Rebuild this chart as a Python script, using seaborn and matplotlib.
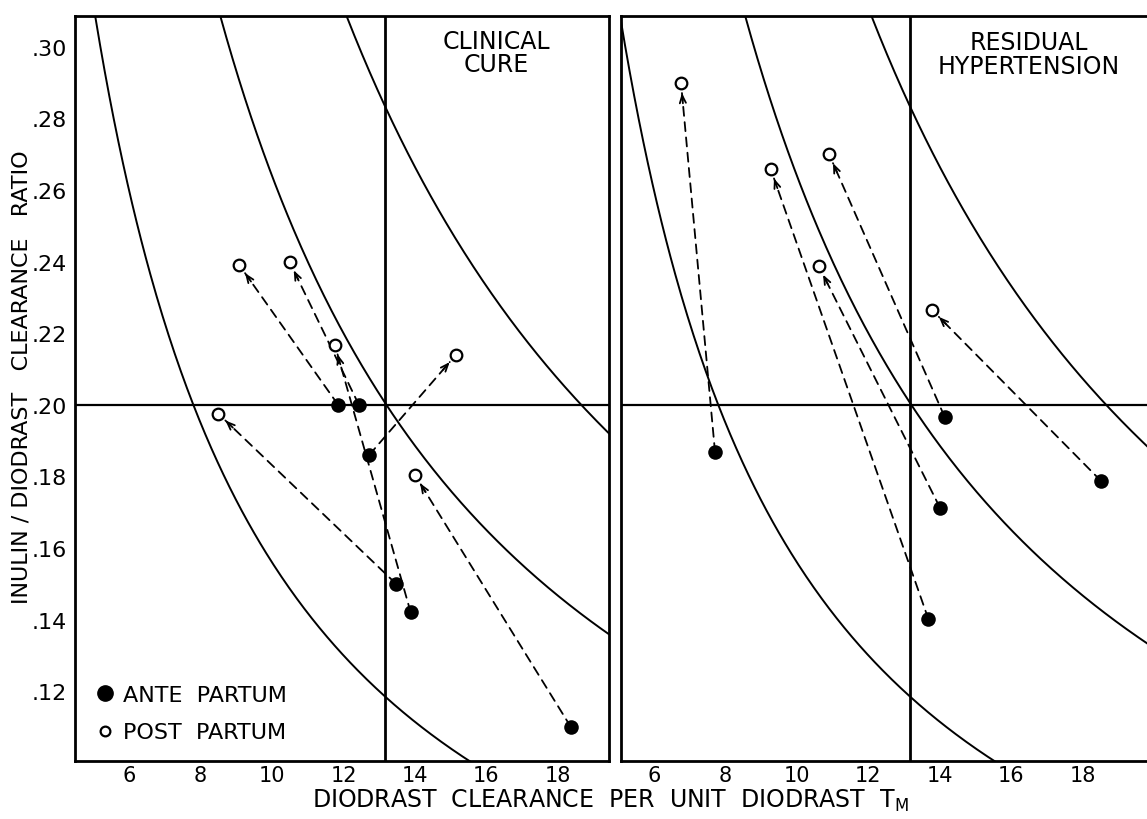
import numpy as np
import pandas as pd
import matplotlib
matplotlib.use("Agg")
import matplotlib.pyplot as plt
from matplotlib.lines import Line2D
from matplotlib.ticker import FuncFormatter
import seaborn as sns

# values
# left panel: clinical cure (ante partum -> post partum pairs)
cure_ante_x = [11.85, 12.43, 12.72, 13.47, 13.88, 18.36]
cure_ante_y = [0.200, 0.200, 0.186, 0.150, 0.142, 0.110]
cure_post_x = [9.09, 10.49, 15.15, 8.50, 11.76, 14.00]
cure_post_y = [0.239, 0.240, 0.214, 0.1975, 0.2167, 0.1804]

# right panel: residual hypertension
resid_ante_x = [7.71, 14.13, 14.00, 13.68, 18.51]
resid_ante_y = [0.1868, 0.1967, 0.1713, 0.1401, 0.1787]
resid_post_x = [6.76, 10.90, 10.61, 9.27, 13.78]
resid_post_y = [0.2898, 0.270, 0.2388, 0.2658, 0.2265]

# constant inulin clearance / Tm lines (ratio * x = k) and reference lines
curve_k = [1.56, 2.64, 3.73]
ref_x = 13.15
ref_y = 0.20

x_ticks = [6, 8, 10, 12, 14, 16, 18]
y_ticks = [0.12, 0.14, 0.16, 0.18, 0.20, 0.22, 0.24, 0.26, 0.28, 0.30]

sns.set_style("white")
plt.rcParams['font.family'] = ['DejaVu Sans']
plt.rcParams['text.color'] = 'black'
plt.rcParams['axes.labelcolor'] = 'black'
plt.rcParams['xtick.color'] = 'black'
plt.rcParams['ytick.color'] = 'black'

W, H = 1147, 820
fig = plt.figure(figsize=(W / 100, H / 100), dpi=100)

ylim = (0.1005, 0.3087)
bottom = (H - 762) / H
height = (762 - 16.7) / H
ax1 = fig.add_axes([75 / W, bottom, (609 - 75) / W, height])
ax2 = fig.add_axes([621 / W, bottom, (W - 621) / W, height])
ax1.set_xlim(4.49, 4.49 + 534 / 35.75)
ax2.set_xlim(5.08, 5.08 + (W - 621) / 35.75)

xs = np.linspace(4.0, 21.0, 400)
curves = pd.DataFrame({
    'x': np.tile(xs, len(curve_k)),
    'y': np.concatenate([k / xs for k in curve_k]),
    'k': np.repeat(curve_k, len(xs)),
})


def draw_panel(ax, ante_x, ante_y, post_x, post_y, title):
    ax.set_ylim(*ylim)
    sns.lineplot(data=curves, x='x', y='y', units='k', estimator=None,
                 color='black', lw=1.4, ax=ax, legend=False, zorder=2, sort=False)
    ax.axvline(ref_x, color='black', lw=2.0, zorder=2)
    ax.axhline(ref_y, color='black', lw=1.6, zorder=2)

    for x0, y0, x1, y1 in zip(ante_x, ante_y, post_x, post_y):
        ax.annotate('', xy=(x1, y1), xytext=(x0, y0),
                    arrowprops=dict(arrowstyle='-', lw=1.3, color='black',
                                    linestyle=(0, (5, 3.5)),
                                    shrinkA=0, shrinkB=7), zorder=3)
        p0 = ax.transData.transform((x0, y0))
        p1 = ax.transData.transform((x1, y1))
        t = 20.0 / np.hypot(*(p1 - p0))
        hx = x1 + t * (x0 - x1)
        hy = y1 + t * (y0 - y1)
        ax.annotate('', xy=(x1, y1), xytext=(hx, hy),
                    arrowprops=dict(arrowstyle='->,head_length=0.55,head_width=0.22',
                                    lw=1.3, color='black', shrinkA=0, shrinkB=7),
                    zorder=3)

    sns.scatterplot(x=ante_x, y=ante_y, ax=ax, color='black', s=110,
                    edgecolor='black', linewidth=0, zorder=4)
    sns.scatterplot(x=post_x, y=post_y, ax=ax, facecolor='white', s=70,
                    edgecolor='black', linewidth=1.6, zorder=4)

    ax.text(title[0], title[1], title[2], ha='center', va='center',
            fontsize=17, linespacing=0.95)

    ax.set_xticks(x_ticks)
    ax.set_xticklabels([str(v) for v in x_ticks])
    ax.tick_params(axis='x', direction='in', length=10, width=1.6,
                   labelsize=15, pad=3)
    ax.set_xlabel('')
    ax.set_ylabel('')
    for s in ax.spines.values():
        s.set_linewidth(2.0)
        s.set_color('black')


draw_panel(ax1, cure_ante_x, cure_ante_y, cure_post_x, cure_post_y,
           (16.27, 0.2983, 'CLINICAL\nCURE'))
draw_panel(ax2, resid_ante_x, resid_ante_y, resid_post_x, resid_post_y,
           (16.49, 0.2980, 'RESIDUAL\nHYPERTENSION'))

ax1.set_yticks(y_ticks)
ax1.yaxis.set_major_formatter(FuncFormatter(lambda v, p: f"{v:.2f}"[1:]))
ax1.tick_params(axis='y', direction='in', length=8, width=1.6,
                labelsize=16, pad=6)

ax2.set_yticks([])
ax2.spines['right'].set_visible(False)

handles = [
    Line2D([], [], marker='o', ls='', mfc='black', mec='black', ms=11),
    Line2D([], [], marker='o', ls='', mfc='white', mec='black', ms=7, mew=1.6),
]
ax1.legend(handles, ['ANTE  PARTUM', 'POST  PARTUM'], loc='lower left',
           bbox_to_anchor=(0.015, 0.004), frameon=False, fontsize=16,
           handlelength=0.6, handletextpad=0.5, labelspacing=0.8,
           borderpad=0.2)

fig.text(610 / W, (H - 808) / H,
         'DIODRAST  CLEARANCE  PER  UNIT  DIODRAST  T$_\\mathregular{M}$',
         ha='center', va='baseline', fontsize=17)
fig.text(21.5 / W, (H - 377.5) / H,
         'INULIN / DIODRAST   CLEARANCE   RATIO',
         rotation=90, ha='center', va='center', fontsize=16)

fig.savefig('out.png', dpi=100)
